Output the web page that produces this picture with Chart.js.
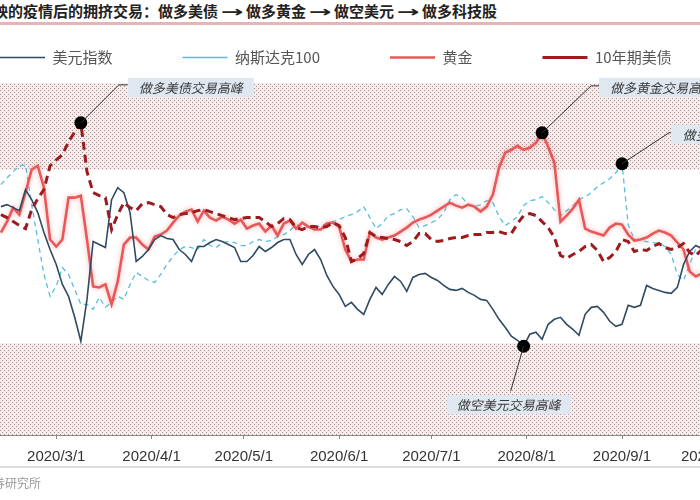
<!DOCTYPE html>
<html>
<head>
<meta charset="utf-8">
<script src="https://cdn.jsdelivr.net/npm/chart.js@4.4.1/dist/chart.umd.min.js"></script>
<style>
html, body { margin: 0; padding: 0; background: #fff; }
body { width: 700px; height: 500px; position: relative; overflow: hidden; font-family: "Noto Sans CJK SC", sans-serif; }
#title { position: absolute; left: -22px; top: 1px; font-size: 15px; font-weight: bold; color: #222; white-space: nowrap; line-height: 20px; }
#title .arr { display: inline-block; width: 28px; text-align: center; font-family: "DejaVu Sans"; font-weight: bold; transform: scaleX(1.8); }
#rule { position: absolute; left: 0; top: 22px; width: 700px; height: 3px; background: #e5b5b5; }
#wrap { position: absolute; left: -70px; top: -20px; width: 830px; height: 495px; }
#footline { position: absolute; left: 0; top: 466px; width: 700px; height: 2px; background: #ddd; }
#source { position: absolute; left: -7px; top: 476px; font-size: 12px; line-height: 14px; color: #999; }
</style>
</head>
<body>
<div id="title">反映的疫情后的拥挤交易：做多美债<span class="arr">→</span>做多黄金<span class="arr">→</span>做空美元<span class="arr">→</span>做多科技股</div>
<div id="rule"></div>
<div id="wrap"><canvas id="grafico"></canvas></div>
<div id="footline"></div>
<div id="source">券研究所</div>
<script>
// datas (de 2 em 2 dias)
const dates = [
    '2020/2/12','2020/2/14','2020/2/16','2020/2/18','2020/2/20','2020/2/22','2020/2/24','2020/2/26','2020/2/28',
    '2020/3/1','2020/3/3','2020/3/5','2020/3/7','2020/3/9','2020/3/11','2020/3/13','2020/3/15','2020/3/17','2020/3/19','2020/3/21','2020/3/23','2020/3/25','2020/3/27','2020/3/29','2020/3/31',
    '2020/4/2','2020/4/4','2020/4/6','2020/4/8','2020/4/10','2020/4/12','2020/4/14','2020/4/16','2020/4/18','2020/4/20','2020/4/22','2020/4/24','2020/4/26','2020/4/28','2020/4/30',
    '2020/5/2','2020/5/4','2020/5/6','2020/5/8','2020/5/10','2020/5/12','2020/5/14','2020/5/16','2020/5/18','2020/5/20','2020/5/22','2020/5/24','2020/5/26','2020/5/28','2020/5/30',
    '2020/6/1','2020/6/3','2020/6/5','2020/6/7','2020/6/9','2020/6/11','2020/6/13','2020/6/15','2020/6/17','2020/6/19','2020/6/21','2020/6/23','2020/6/25','2020/6/27','2020/6/29',
    '2020/7/1','2020/7/3','2020/7/5','2020/7/7','2020/7/9','2020/7/11','2020/7/13','2020/7/15','2020/7/17','2020/7/19','2020/7/21','2020/7/23','2020/7/25','2020/7/27','2020/7/29','2020/7/31',
    '2020/8/2','2020/8/4','2020/8/6','2020/8/8','2020/8/10','2020/8/12','2020/8/14','2020/8/16','2020/8/18','2020/8/20','2020/8/22','2020/8/24','2020/8/26','2020/8/28','2020/8/30',
    '2020/9/1','2020/9/3','2020/9/5','2020/9/7','2020/9/9','2020/9/11','2020/9/13','2020/9/15','2020/9/17','2020/9/19','2020/9/21','2020/9/23','2020/9/25','2020/9/27'
];

// séries normalizadas (eixo y oculto)
const usd = [
    114.5,115.5,114,112.5,123,118,111.5,101.5,93,
    85.5,75.5,69.5,59,47,68,97,95.5,94,118,124,121.5,111.5,87,89.5,93,
    98,100,98.5,98,93,90.5,87,94.5,94.5,96.5,98,97,95.5,94,87,
    87,90,94.5,92,94,96.5,98,98,90.5,85.5,90.5,93,88,80,74.5,
    70.5,64.5,66.5,63,60.5,68,74,70.5,75.5,79.5,77,72,79,80.5,81,
    79,77.5,75,73,72.5,73.5,71.5,70,68,67.5,63,58,54,49.5,47.5,44.5,
    50.5,51.5,48,55.5,58,59,55.5,53,50,60.5,64,64.5,61.5,57,54.5,
    55.5,65,64,65,75,73.5,72.5,71.5,71,74,85.5,92,95,93.5
];
const nasdaq = [
    125.5,129,132,135,135.5,115.5,98,80.5,69.5,
    74.5,84,80.5,73,65.5,65.5,63,69,64,66.5,69.5,68,75.5,81.5,79.5,77.5,
    76.5,80.5,85.5,89.5,93,94.5,94,93,98,95,94,96.5,97,96.5,95,
    95,97,98,97,97.5,99.5,100.5,102.5,105.5,104.5,104,104,105,106,107,
    108,109.5,110.5,112,114.5,109,103.5,106,110,111,113,113.5,109.5,104,105,
    106.5,108,111.5,118,120.5,119,115.5,114.5,115.5,117.5,116.5,109.5,105,107,109.5,115,
    117.5,118,119.5,116.5,113,110,112.5,115,118,119.5,121.5,124.5,126.5,128.5,131.5,
    136,105.5,98,97.5,97,96.5,96,94.5,90.5,80.5,77.5,85.5,93.5,94
];
const gold = [
    101.5,107,114,110.5,121.5,133,135,124,98,
    94.5,98,119,119,120,98,74.5,74,75.5,65.5,77,95.5,99,99,95.5,93,
    99.5,100.5,102.5,106.5,110,112,113,107,112.5,109,107.5,109.5,108,106,108,
    103.5,105,106,102,105,100,106,107.5,103.5,106.5,104.5,103,103,106,106.5,
    104.5,93,87,88,88,101.5,99,98,99,100,102,104,106.5,108,109,
    110.5,112.5,114.5,116.5,115,114,115.5,114.5,112,114.5,120.5,134,141.5,143,145,143,
    144,146.5,151.5,144.5,136.5,107,110,113.5,118,103.5,102,101,100,104,106,
    105.5,100.5,97.5,98,99,101,102.5,101.5,100,96.5,93,82,79.5,81
];
const ust10y = [
    110.5,109,107,105,103.5,113,118.5,123,135,
    138,140.5,147,152,156.5,132,121.5,120,119,103,110.5,116.5,114,112.5,116,116.5,
    115.5,114.5,110.5,109,110.5,111,111.5,112.5,113,112,111,110,109,108,108.5,
    109,109,109,107,104.5,106,108.5,108,104,103,104.5,104.5,104,104.5,106.5,
    105,99,87,88.5,91,101.5,99.5,99,98.5,98,97,95,97,101,101,
    98,97,97.5,98.5,99,99,100,100.5,100.5,101.5,101.5,102,101,101,106,110,
    111,110,107,104,99,90,88.5,90.5,92,94.5,95.5,92.5,87,89,92,
    98,97,92,93,92.5,94.5,96,94,93,94,96,91.5,90,93
];
const seriesNames = ['美元指数', '纳斯达克100', '黄金', '10年期美债'];
const tickDates = ['2020/3/1','2020/4/1','2020/5/1','2020/6/1','2020/7/1','2020/8/1','2020/9/1','2020/10/1'];
// faixas de "lotação" (topo e fundo)
const bands = [[133, 176.5], [0, 46]];
// picos marcados: série, data, texto
const peaks = [
    { serie: 3, date: '2020/3/9', text: '做多美债交易高峰' },
    { serie: 2, date: '2020/8/6', text: '做多黄金交易高峰' },
    { serie: 1, date: '2020/9/1', text: '做多科技股交易高峰' },
    { serie: 0, date: '2020/7/31', text: '做空美元交易高峰' }
];

const valores = [usd, nasdaq, gold, ust10y];

function diaDoAno(s) {
    const p = s.split('/').map(Number);
    return (Date.UTC(p[0], p[1] - 1, p[2]) - Date.UTC(p[0], 0, 1)) / 864e5 + 1;
}
function pontos(vals) {
    return dates.map((d, i) => ({ x: diaDoAno(d), y: vals[i] }));
}
const rotulos = {};
tickDates.forEach(d => { rotulos[diaDoAno(d)] = d; });

// padrão pontilhado das faixas
function hachura(ctx) {
    const c = document.createElement('canvas');
    c.width = 4; c.height = 4;
    const g = c.getContext('2d');
    g.fillStyle = '#f6ecec';
    g.fillRect(0, 0, 4, 4);
    g.fillStyle = '#a88e8e';
    g.fillRect(0, 0, 1, 1);
    g.fillRect(2, 2, 1, 1);
    return ctx.createPattern(c, 'repeat');
}

const faixasPlugin = {
    id: 'faixas',
    beforeDatasetsDraw(chart) {
        const { ctx, chartArea, scales } = chart;
        ctx.save();
        ctx.fillStyle = hachura(ctx);
        bands.forEach(b => {
            const y1 = scales.y.getPixelForValue(b[1]);
            const y2 = scales.y.getPixelForValue(b[0]);
            ctx.fillRect(chartArea.left, y1, chartArea.right - chartArea.left, y2 - y1);
        });
        ctx.restore();
    }
};

const brilhoPlugin = {
    id: 'brilho',
    beforeDatasetDraw(chart, args) {
        if (chart.data.datasets[args.index].glow) {
            chart.ctx.save();
            chart.ctx.shadowColor = 'rgba(240,120,120,0.6)';
            chart.ctx.shadowBlur = 5;
        }
    },
    afterDatasetDraw(chart, args) {
        if (chart.data.datasets[args.index].glow) chart.ctx.restore();
    }
};

// caixas de texto dos picos (deslocamento em px a partir do ponto)
const caixas = [
    { cx: 38, cy: -38, bx: 47, by: -45, w: 126 },
    { cx: 49, cy: -47, bx: 57, by: -55, w: 126 },
    { cx: 47, cy: -31, bx: 49, by: -39, w: 140 },
    { cx: -13, cy: 45, bx: -77, by: 49, w: 124 }
];
const chamadasPlugin = {
    id: 'chamadas',
    afterDatasetsDraw(chart) {
        const ctx = chart.ctx;
        const meta = chart.getDatasetMeta(4);
        ctx.save();
        peaks.forEach((p, i) => {
            const pt = meta.data[i];
            const c = caixas[i];
            ctx.strokeStyle = '#333';
            ctx.lineWidth = 1;
            ctx.beginPath();
            ctx.moveTo(pt.x, pt.y);
            ctx.lineTo(pt.x + c.cx, pt.y + c.cy);
            if (c.bx > c.cx) ctx.lineTo(pt.x + c.bx, pt.y + c.cy);
            ctx.stroke();
            ctx.fillStyle = '#dfe7f0';
            ctx.fillRect(pt.x + c.bx, pt.y + c.by, c.w, 19);
            ctx.fillStyle = '#3a3a3a';
            ctx.font = 'italic 13px "Noto Sans CJK SC"';
            ctx.textAlign = 'center';
            ctx.textBaseline = 'middle';
            ctx.fillText(p.text, pt.x + c.bx + c.w / 2, pt.y + c.by + 10);
        });
        ctx.restore();
    }
};

const cores = ['#2f4a62', '#55bde0', '#e85858', '#9b1b1f'];
const estilo = [
    { borderWidth: 1.6, borderDash: [], order: 2 },
    { borderWidth: 1.3, borderDash: [5, 4], order: 4 },
    { borderWidth: 2.6, borderDash: [], order: 3, glow: true },
    { borderWidth: 3, borderDash: [8, 5], order: 1 }
];

const datasets = valores.map((v, i) => Object.assign({
    label: seriesNames[i],
    data: pontos(v),
    borderColor: cores[i],
    backgroundColor: cores[i],
    pointRadius: 0,
    tension: 0,
    fill: false
}, estilo[i]));

datasets.push({
    type: 'scatter',
    label: 'peaks',
    data: peaks.map(p => ({ x: diaDoAno(p.date), y: valores[p.serie][dates.indexOf(p.date)] })),
    pointRadius: 6.5,
    backgroundColor: '#000',
    borderWidth: 0,
    order: 0
});

const ctx = document.getElementById('grafico').getContext('2d');
const chart = new Chart(ctx, {
    type: 'line',
    data: { datasets: datasets },
    options: {
        responsive: true,
        maintainAspectRatio: false,
        animation: false,
        layout: { padding: 0 },
        plugins: {
            legend: {
                display: true,
                position: 'top',
                align: 'start',
                labels: {
                    usePointStyle: true,
                    pointStyle: 'line',
                    pointStyleWidth: 45,
                    padding: 70,
                    color: '#555',
                    font: { family: '"Noto Sans CJK SC"', size: 15 },
                    filter: item => item.datasetIndex < 4,
                    sort: (a, b) => a.datasetIndex - b.datasetIndex
                }
            },
            tooltip: { enabled: false }
        },
        scales: {
            x: {
                type: 'linear',
                min: 22.06,
                max: 287.76,
                afterBuildTicks: s => { s.ticks = tickDates.map(d => ({ value: diaDoAno(d) })); },
                ticks: {
                    callback: v => rotulos[v] || '',
                    font: { family: '"Liberation Sans"', size: 15 },
                    color: '#333',
                    padding: 9,
                    maxRotation: 0,
                    autoSkip: false
                },
                grid: { drawOnChartArea: false, tickLength: 4, color: '#888' },
                border: { color: '#888' }
            },
            y: { display: false, min: 0, max: 180.5 }
        }
    },
    plugins: [faixasPlugin, brilhoPlugin, chamadasPlugin]
});
</script>
</body>
</html>
